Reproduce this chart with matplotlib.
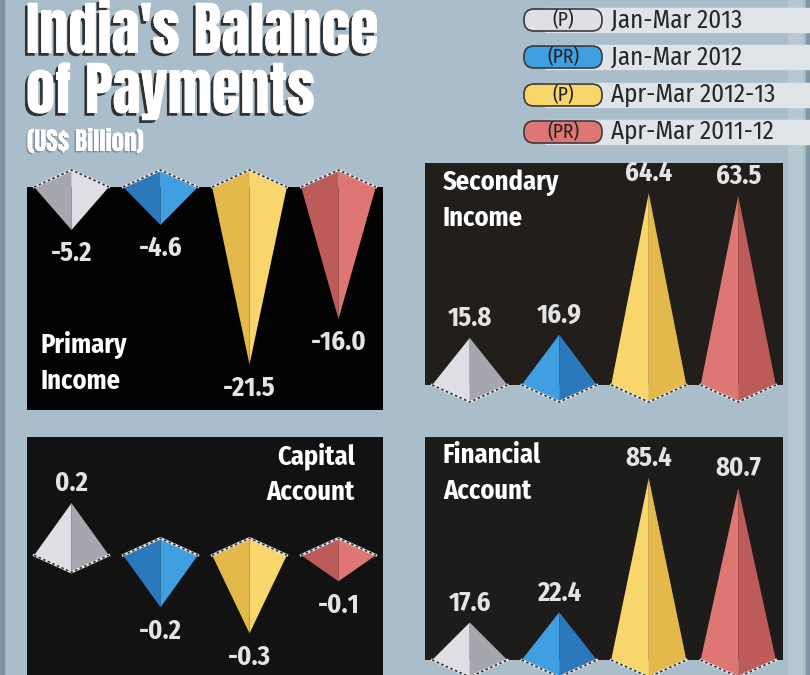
import matplotlib
matplotlib.use("Agg")
import matplotlib.pyplot as plt
import matplotlib.patheffects as pe
from matplotlib.patches import Polygon, Rectangle, FancyBboxPatch

# data (US$ billion)
series = ["Jan-Mar 2013", "Jan-Mar 2012", "Apr-Mar 2012-13", "Apr-Mar 2011-12"]
tags = ["(P)", "(PR)", "(P)", "(PR)"]
primary_income = [-5.2, -4.6, -21.5, -16.0]
secondary_income = [15.8, 16.9, 64.4, 63.5]
capital_account = [0.2, -0.2, -0.3, -0.1]
financial_account = [17.6, 22.4, 85.4, 80.7]

light = ["#dedee4", "#3f9fe0", "#f8d66c", "#de7673"]
dark = ["#a6a6ae", "#2b78bb", "#e3b94b", "#bd5a5a"]

W, H = 810, 675
TITLE = ["Anton", "DejaVu Sans"]
BODY = ["Fira Sans Condensed", "DejaVu Sans"]

fig = plt.figure(figsize=(W / 100, H / 100), dpi=100)
fig.patch.set_facecolor("#a9bdca")

# whole-figure axes in pixel units for the decorations
bg = fig.add_axes([0, 0, 1, 1])
bg.set_xlim(0, W)
bg.set_ylim(H, 0)
bg.axis("off")
bg.add_patch(Rectangle((0, 0), 4, H, color="#7d93a3"))
bg.add_patch(Rectangle((788, 0), 14, H, color="#b7c8d3"))
bg.add_patch(Rectangle((806, 0), 4, H, color="#8197a7"))

shadow = [pe.withSimplePatchShadow(offset=(-2, -2), shadow_rgbFace="#222222", alpha=0.9), pe.Normal()]
bg.text(26, 53, "India's Balance", fontsize=42, family=TITLE,
        color="white", va="baseline", path_effects=shadow)
bg.text(26, 113, "of Payments", fontsize=42, family=TITLE,
        color="white", va="baseline", path_effects=shadow)
bg.text(27, 151, "(US$ Billion)", fontsize=18, family=TITLE,
        color="white", va="baseline",
        path_effects=[pe.withSimplePatchShadow(offset=(-1, -1), shadow_rgbFace="#222222"), pe.Normal()])

# legend
rows = [20, 57, 95, 132]
for k in range(4):
    y = rows[k]
    bg.add_patch(Rectangle((545, y - 12), 265, 24, color="#dfe4e8"))
    bg.add_patch(FancyBboxPatch((524, y - 11), 78, 22, boxstyle="round,pad=0,rounding_size=10",
                                fc=light[k], ec="#3a3a3a", lw=1.2))
    bg.text(563, y, tags[k], fontsize=14, family=BODY, color="#222222", ha="center", va="center")
    bg.text(611, y, series[k], fontsize=18, family=BODY, color="#262626", ha="left", va="center")


def panel(left, top, right, bottom, ylim, color):
    ax = fig.add_axes([left / W, 1 - bottom / H, (right - left) / W, (bottom - top) / H])
    ax.set_facecolor(color)
    ax.set_xlim(-0.5, 3.5)
    ax.set_ylim(*ylim)
    ax.set_xticks([])
    ax.set_yticks([])
    for s in ax.spines.values():
        s.set_visible(False)
    ppu = (bottom - top) / (ylim[1] - ylim[0])  # pixels per data unit
    return ax, ppu


def pyramids(ax, ppu, values):
    hw = 0.42
    hd = 17 / ppu
    for i, v in enumerate(values):
        if v >= 0:
            faces = [[(i, v), (i - hw, 0), (i, -hd)], [(i, v), (i, -hd), (i + hw, 0)]]
            cols = [light[i], dark[i]]
            edge = [(i - hw, 0), (i, -hd), (i + hw, 0)]
            off = 14
        else:
            faces = [[(i, hd), (i - hw, 0), (i, v)], [(i, hd), (i + hw, 0), (i, v)]]
            cols = [dark[i], light[i]]
            edge = [(i - hw, 0), (i, hd), (i + hw, 0)]
            off = -17
        for f, c in zip(faces, cols):
            ax.add_patch(Polygon(f, closed=True, fc=c, ec="none", clip_on=False, zorder=3))
        xs = [p[0] for p in edge]
        ys = [p[1] for p in edge]
        ax.plot(xs, ys, color="#e6e6e6", lw=1.8, clip_on=False, zorder=4)
        ax.plot(xs, ys, color="#333333", lw=1.2, ls=(0, (1.5, 1.5)), clip_on=False, zorder=5)
        ax.annotate(f"{v:.1f}", (i, v), xytext=(0, off), textcoords="offset points",
                    ha="center", va="center", fontsize=19, family=BODY, weight="bold",
                    color="#e4e4e4", annotation_clip=False, zorder=6)


ax1, p1 = panel(27, 187, 383, 410, (-27, 0), "#030303")
pyramids(ax1, p1, primary_income)
ax2, p2 = panel(425, 163, 783, 385, (0, 74.5), "#211e1c")
pyramids(ax2, p2, secondary_income)
ax3, p3 = panel(27, 437, 383, H, (-0.46, 0.454), "#121212")
pyramids(ax3, p3, capital_account)
ax4, p4 = panel(425, 437, 783, 660, (0, 104.7), "#1e1c1b")
pyramids(ax4, p4, financial_account)

tkw = dict(fontsize=19, family=BODY, weight="bold", color="white", linespacing=1.45, va="top")
fig.text(40 / W, 1 - 331 / H, "Primary\nIncome", ha="left", **tkw)
fig.text(443 / W, 1 - 169 / H, "Secondary\nIncome", ha="left", **tkw)
fig.text(355 / W, 1 - 442 / H, "Capital\nAccount", ha="right", multialignment="right", **tkw)
fig.text(443 / W, 1 - 442 / H, "Financial\nAccount", ha="left", **tkw)

fig.savefig("out.png", dpi=100, facecolor=fig.get_facecolor())
